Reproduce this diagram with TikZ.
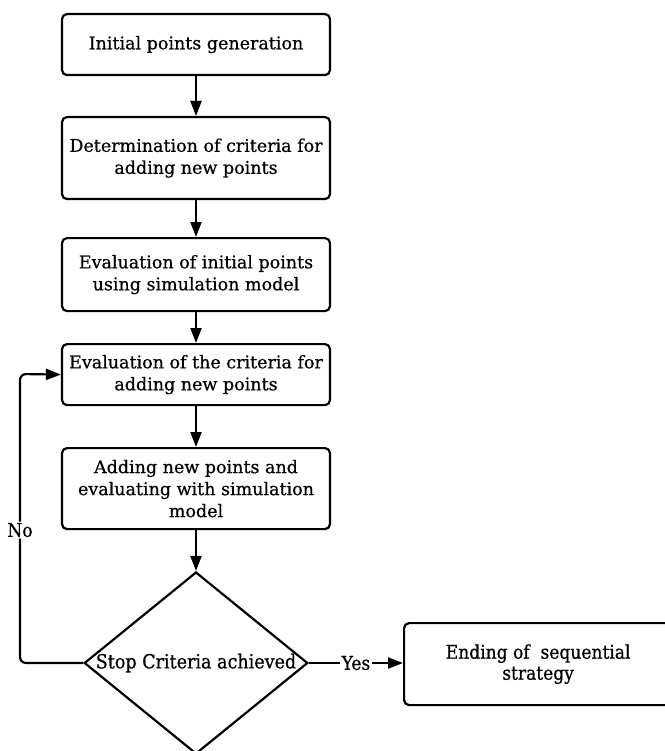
\documentclass[tikz,border=0pt]{standalone}
\usepackage{fontspec}
\setmainfont{DejaVu Serif}[FakeBold=0.6]
\newfontfamily\condfont{DejaVu Serif Condensed}[FakeBold=0.7]
\usetikzlibrary{shapes.geometric,arrows.meta}
\begin{document}
\begin{tikzpicture}[x=1pt,y=-1pt,
  line width=2.2pt,
  box/.style={draw, rounded corners=5pt, minimum width=268pt, align=center,
    font=\fontsize{17.5}{22}\selectfont, inner sep=0pt},
  arr/.style={-{Triangle[length=15pt,width=11pt]}},
  decision/.style={draw, diamond, aspect=1.23, minimum width=223pt, minimum height=182pt,
    inner sep=0pt, font=\condfont\fontsize{19.5}{22}\selectfont},
  endbox/.style={draw, rounded corners=5pt, minimum width=268pt, minimum height=82pt,
    align=center, font=\condfont\fontsize{19}{21}\selectfont, inner sep=0pt},
  lbl/.style={font=\condfont\fontsize{19}{20}\selectfont, fill=white, inner sep=1.5pt}]
\useasboundingbox (0,0) rectangle (664,751);
\node[box, minimum height=61pt, anchor=north] (b1) at (196,13) {Initial points generation};
\node[box, minimum height=82pt, anchor=north] (b2) at (196,116) {Determination of criteria for\\adding new points};
\node[box, minimum height=73pt, anchor=north] (b3) at (196,237) {Evaluation of initial points\\using simulation model};
\node[box, minimum height=61pt, anchor=north] (b4) at (196,343) {Evaluation of the criteria for\\adding new points};
\node[box, minimum height=81pt, anchor=north] (b5) at (196,447) {Adding new points and\\evaluating with simulation\\model};
\node[decision] (d) at (196,663) {Stop Criteria achieved};
\node[endbox, anchor=north west] (e) at (403,622) {Ending of\ \ sequential\\strategy};
\coordinate (c1) at (20,663);
\coordinate (c2) at (20,374);
\draw[arr] (b1) -- (b2);
\draw[arr] (b2) -- (b3);
\draw[arr] (b3) -- (b4);
\draw[arr] (b4) -- (b5);
\draw[arr] (b5) -- (d);
\draw[arr, rounded corners=6pt] (d.west) -- (c1) -- node[lbl, pos=0.46] {No} (c2) -- (b4.west);
\draw[arr] (d.east) -- node[lbl] {Yes} (e.west |- d.east);
\end{tikzpicture}
\end{document}
